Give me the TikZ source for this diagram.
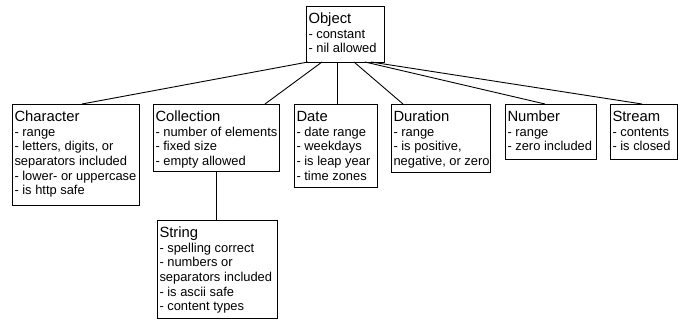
\documentclass[tikz,border=0pt]{standalone}
\usepackage{fontspec}
\setmainfont{Liberation Sans}
\tikzset{
  umlbox/.style={draw=black, line width=0.9pt, anchor=north west, inner sep=0pt, outer sep=0pt},
  link/.style={draw=black, line width=0.9pt}
}
\newcommand\umlboxnode[7]{%
  \node[umlbox] (#1) at (#2,#3) {\parbox[t][#5pt][t]{#4pt}{\raggedright\leftskip=2.5pt\fontsize{12.9}{14.7}\selectfont
  \rule{0pt}{17.5pt}{\fontsize{14.8}{14.7}\selectfont #6}\\#7}};}
\begin{document}
\begin{tikzpicture}[x=1pt,y=-1pt]
\useasboundingbox (0,0) rectangle (683,320);
\umlboxnode{obj}{306}{6}{78}{56}{Object}{- constant\\- nil allowed}
\umlboxnode{char}{12}{104}{127}{101}{Character}{- range\\- letters, digits, or\\separators included\\- lower- or uppercase\\- is http safe}
\umlboxnode{coll}{153}{104}{126}{67}{Collection}{- number of elements\\- fixed size\\- empty allowed}
\umlboxnode{date}{294}{104}{83}{83}{Date}{- date range\\- weekdays\\- is leap year\\- time zones}
\umlboxnode{dur}{391}{104}{99}{68}{Duration}{- range\\- is positive,\\negative, or zero}
\umlboxnode{num}{505}{104}{91}{55}{Number}{- range\\- zero included}
\umlboxnode{strm}{610}{104}{67}{55}{Stream}{- contents\\- is closed}
\umlboxnode{str}{157}{220}{120}{98}{String}{- spelling correct\\- numbers or\\separators included\\- is ascii safe\\- content types}
\draw[link] ([xshift=2pt]obj.south west) -- ([xshift=70pt]char.north west);
\draw[link] ([xshift=16pt]obj.south west) -- ([xshift=112pt]coll.north west);
\draw[link] ([xshift=31pt]obj.south west) -- ([xshift=43pt]date.north west);
\draw[link] ([xshift=48pt]obj.south west) -- ([xshift=12pt]dur.north west);
\draw[link] ([xshift=59pt]obj.south west) -- ([xshift=40pt]num.north west);
\draw[link] ([xshift=65pt]obj.south west) -- ([xshift=32pt]strm.north west);
\draw[link] (coll.south) -- (coll.south |- str.north);
\end{tikzpicture}
\end{document}
